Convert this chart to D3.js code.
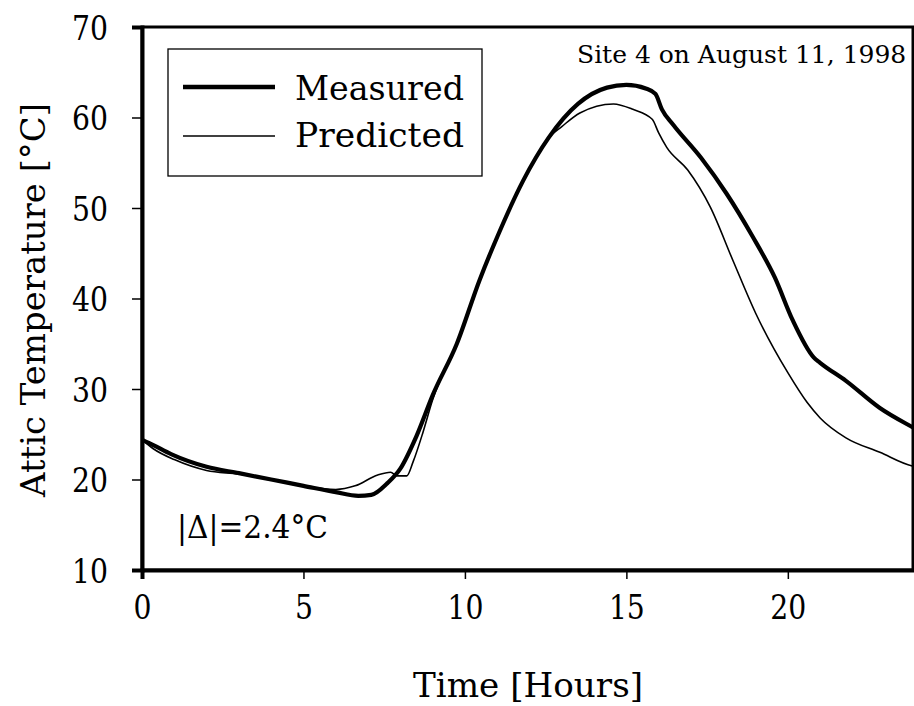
<!DOCTYPE html>
<html><head><meta charset="utf-8">
<script src="https://cdn.jsdelivr.net/npm/d3@7"></script>
<style>body{margin:0;background:#fff}svg{display:block}text{font-family:"DejaVu Serif","Liberation Serif",serif;fill:#000}</style>
</head><body><svg id="c" width="914" height="706"></svg>
<script>
const measuredHours = [0,0.35,0.9,2,3,4,5,6,6.7,7.1,7.6,8,8.5,9,9.75,10.45,11,11.8,12.6,13.5,14.4,15,15.6,15.9,16.1,16.45,17.3,18.1,18.9,19.6,20.15,20.8,21,21.8,22.85,23.9,24];
const measuredTemp  = [24.4,23.8,22.8,21.4,20.7,20,19.3,18.6,18.2,18.3,19.6,21.2,24.8,29.3,35,42,46.8,53,57.8,61.5,63.3,63.6,63.2,62.6,60.9,59.2,55.6,51.6,46.9,42.3,37.6,33.5,32.9,30.9,27.9,25.7,25.5];
const predictedHours = [0,0.35,1,2,3,4,5,6,6.6,7.3,7.7,7.9,8.2,8.4,8.7,9,9.75,10.45,11,11.8,12.6,13,13.56,14.6,15.2,15.8,16,16.25,16.9,17.6,18.3,19,20,20.6,21,21.8,22.85,23.85,24];
const predictedTemp  = [24.4,23.4,22.2,21,20.6,20,19.3,18.9,19.3,20.5,20.8,20.4,20.4,22,25.2,28.8,35,42,46.8,53,57.8,59,60.5,61.5,60.9,59.8,58.3,56.7,54.2,50.1,44.2,38.4,31.8,28.5,26.8,24.6,23,21.5,21.4];
const xTicks = [0,5,10,15,20];
const yTicks = [10,20,30,40,50,60,70];
const seriesNames = ["Measured","Predicted"];
const titleText = "Site 4 on August 11, 1998";
const statText = "|Δ|=2.4°C";
const xLabel = "Time [Hours]";
const yLabel = "Attic Temperature [°C]";

const FONT = '"DejaVu Serif","Liberation Serif",serif';
const svg = d3.select("#c");
const x = d3.scaleLinear().domain([0,24]).range([142,917]);
const y = d3.scaleLinear().domain([10,70]).range([570,27]);

svg.append("defs").append("clipPath").attr("id","clip")
  .append("rect").attr("x",142).attr("y",27).attr("width",772).attr("height",543);

svg.append("rect").attr("x",142).attr("y",27).attr("width",771).attr("height",543)
  .attr("fill","none").attr("stroke","#000").attr("stroke-width",3);

const xa = svg.append("g").attr("transform","translate(0,570)")
  .call(d3.axisBottom(x).tickValues(xTicks).tickSize(9).tickPadding(16).tickFormat(d3.format("d")));
const ya = svg.append("g").attr("transform","translate(142,0)")
  .call(d3.axisLeft(y).tickValues(yTicks).tickSize(10).tickPadding(24).tickFormat(d3.format("d")));
[xa,ya].forEach(g=>{
  g.select(".domain").attr("stroke","#000").attr("stroke-width",4);
  g.selectAll(".tick line").attr("stroke","#000").attr("stroke-width",1.5);
  g.selectAll(".tick text").attr("font-family",FONT).attr("font-size",34).attr("fill","#000")
    .attr("textLength",36).attr("lengthAdjust","spacingAndGlyphs");
});
xa.selectAll(".tick text").filter(d=>d<10).attr("textLength",18);
ya.selectAll(".tick text").attr("dy","0.36em");

const g = svg.append("g").attr("clip-path","url(#clip)");
const line = d3.line().x(d=>x(d[0])).y(d=>y(d[1])).curve(d3.curveMonotoneX);
g.append("path").datum(predictedHours.map((h,i)=>[h,predictedTemp[i]]))
  .attr("d",line).attr("fill","none").attr("stroke","#000").attr("stroke-width",1.6);
g.append("path").datum(measuredHours.map((h,i)=>[h,measuredTemp[i]]))
  .attr("d",line).attr("fill","none").attr("stroke","#000").attr("stroke-width",4.2).attr("stroke-linejoin","round");

svg.append("rect").attr("x",168).attr("y",49).attr("width",314).attr("height",127)
  .attr("fill","#fff").attr("stroke","#000").attr("stroke-width",1.3);
const ly = [87,136], lw = [4.5,1.6], lb = [100,147];
seriesNames.forEach((n,i)=>{
  svg.append("line").attr("x1",183).attr("x2",275).attr("y1",ly[i]).attr("y2",ly[i])
    .attr("stroke","#000").attr("stroke-width",lw[i]);
  svg.append("text").attr("x",295).attr("y",lb[i]).attr("font-size",34)
    .attr("textLength",169).attr("lengthAdjust","spacingAndGlyphs").text(n);
});

svg.append("text").attr("x",577).attr("y",63).attr("font-size",25).text(titleText);
svg.append("text").attr("x",177).attr("y",538).attr("font-size",32)
  .attr("textLength",151).attr("lengthAdjust","spacingAndGlyphs").text(statText);
svg.append("text").attr("x",528).attr("y",697).attr("font-size",34).attr("text-anchor","middle")
  .attr("textLength",230).attr("lengthAdjust","spacingAndGlyphs").text(xLabel);
svg.append("text").attr("transform","translate(45,300) rotate(-90)").attr("font-size",34)
  .attr("text-anchor","middle").attr("textLength",394).attr("lengthAdjust","spacingAndGlyphs").text(yLabel);
</script></body></html>
